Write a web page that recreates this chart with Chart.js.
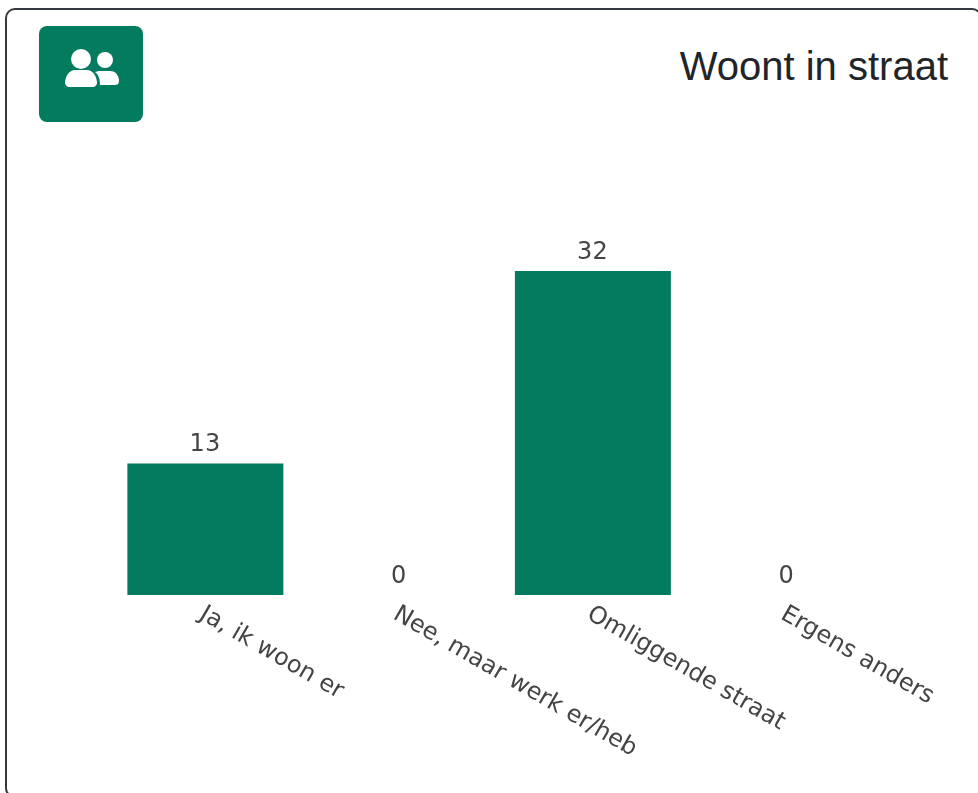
<!DOCTYPE html>
<html>
<head>
<meta charset="utf-8">
<title>Woont in straat</title>
<script src="https://cdn.jsdelivr.net/npm/chart.js@4"></script>
<style>
  html, body { margin: 0; padding: 0; background: #fff; overflow: hidden; }
  body { width: 978px; height: 793px; position: relative; }
  .card {
    position: absolute; left: 5px; top: 8px; width: 977px; height: 790px;
    box-sizing: border-box; border: 2px solid #343a40; border-radius: 10px;
  }
  .icon { position: absolute; left: 39px; top: 26px; width: 104px; height: 96px; }
  h1 {
    position: absolute; right: 30px; top: 43px; margin: 0;
    font: 400 40px/46px "Liberation Sans", Arial, sans-serif; color: #212529;
  }
  /* the slanted labels get cut off at the bottom of the plot box */
  .plot { position: absolute; left: 0; top: 0; width: 978px; height: 755px; overflow: hidden; }
  canvas { position: absolute; left: 0; top: 0; }
</style>
</head>
<body>
<div class="card"></div>
<svg class="icon" viewBox="0 0 104 96">
  <rect width="104" height="96" rx="8" fill="#037b5f"/>
  <circle cx="42" cy="33" r="10" fill="#fff"/>
  <circle cx="66" cy="34" r="8" fill="#fff"/>
  <path d="M60 45h11c6 0 9 5 9 10 0 3-2 4-4 4H61c0-5-1-10-5-13z" fill="#fff"/>
  <path d="M36 44h12c6 0 10 7 10 13 0 2-2 4-4 4H30c-2 0-4-2-4-4 0-6 4-13 10-13z" fill="#fff"/>
</svg>
<h1>Woont in straat</h1>
<div class="plot"><canvas id="chart" width="978" height="793"></canvas></div>
<script>
const categories = ['Ja, ik woon er', 'Nee, maar werk er/heb', 'Omliggende straat', 'Ergens anders'];
const values = [13, 0, 32, 0];
const axisMax = 40;

const GREEN = '#037b5f';
const TEXT = '#444444';
const LABEL_FONT = '24px "DejaVu Sans", Verdana, sans-serif';

// value on top of each bar and slanted category labels
const barLabels = {
  id: 'barLabels',
  afterDatasetsDraw(chart) {
    const { ctx, scales } = chart;
    ctx.save();
    ctx.font = LABEL_FONT;
    ctx.fillStyle = TEXT;

    values.forEach((value, i) => {
      ctx.textAlign = 'center';
      ctx.textBaseline = 'middle';
      ctx.fillText(String(value), scales.x.getPixelForValue(i) - 0.5, scales.y.getPixelForValue(value) - 18.5);
    });

    categories.forEach((label, i) => {
      ctx.save();
      ctx.translate(scales.x.getPixelForValue(i) - 4, scales.y.getPixelForValue(0) + 17.5);
      ctx.rotate(30 * Math.PI / 180);
      ctx.textAlign = 'left';
      ctx.textBaseline = 'middle';
      ctx.fillText(label, 0, 0);
      ctx.restore();
    });
    ctx.restore();
  }
};

new Chart(document.getElementById('chart'), {
  type: 'bar',
  data: {
    labels: categories,
    datasets: [{
      data: values,
      backgroundColor: GREEN,
      borderWidth: 0,
      categoryPercentage: 1,
      barPercentage: 0.805
    }]
  },
  options: {
    responsive: false,
    animation: false,
    layout: { padding: { left: 108.5, right: 94.5, top: 190, bottom: 198 } },
    plugins: { legend: { display: false }, tooltip: { enabled: false } },
    scales: {
      x: { display: false },
      y: { display: false, min: 0, max: axisMax }
    }
  },
  plugins: [barLabels]
});
</script>
</body>
</html>
